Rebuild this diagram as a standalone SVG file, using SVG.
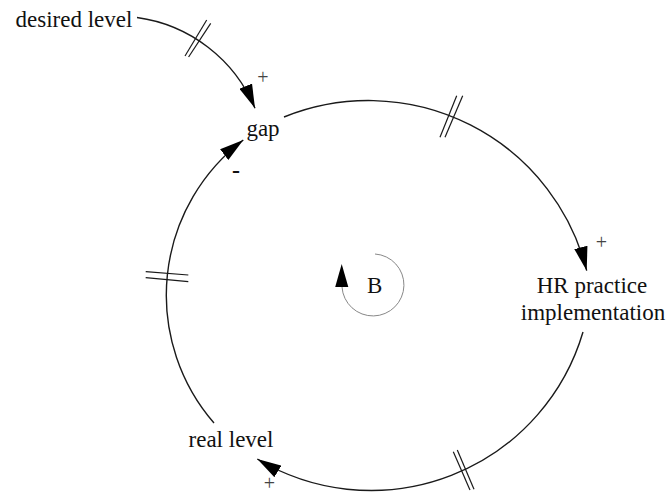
<svg xmlns="http://www.w3.org/2000/svg" width="667" height="495" viewBox="0 0 667 495">
<style>
.lbl{font-family:"Liberation Serif","Times New Roman",serif;font-size:23px;fill:#111;text-anchor:middle}
.pol{font-family:"Liberation Serif","Times New Roman",serif;font-size:20px;fill:#444;text-anchor:middle}
.link{fill:none;stroke:#1a1a1a;stroke-width:1.4}
.bar{stroke:#1a1a1a;stroke-width:1.2}
.loop{fill:none;stroke:#888;stroke-width:1}
</style>
<defs>
<marker id="ah" markerUnits="userSpaceOnUse" markerWidth="24" markerHeight="14" viewBox="0 0 23 13" refX="23" refY="6.5" orient="auto">
<path d="M0,0 L23,6.5 L0,13 Z" fill="#000"/>
</marker>
</defs>
<rect width="667" height="495" fill="#fff"/>
<g id="connectors">
<path class="link" d="M137,17.5 A150,150 0 0 1 255,108.3" marker-end="url(#ah)"/>
<line class="bar" x1="185" y1="56" x2="206.7" y2="20"/>
<line class="bar" x1="188.6" y1="57" x2="210.7" y2="23.3"/>
<path class="link" d="M284,117 A225,225 0 0 1 586.7,270.7" marker-end="url(#ah)"/>
<line class="bar" x1="440" y1="137.3" x2="456.7" y2="95.7"/>
<line class="bar" x1="445" y1="137.3" x2="462.7" y2="95.7"/>
<path class="link" d="M583,332 A221,221 0 0 1 257.3,459" marker-end="url(#ah)"/>
<line class="bar" x1="453.3" y1="451.7" x2="470" y2="490"/>
<line class="bar" x1="457.3" y1="450" x2="474" y2="489.3"/>
<path class="link" d="M214,423 A195,195 0 0 1 243.3,140" marker-end="url(#ah)"/>
<line class="bar" x1="145.7" y1="271.7" x2="188.3" y2="275"/>
<line class="bar" x1="145.7" y1="277.7" x2="188.3" y2="281.7"/>
<text class="pol" x="263" y="84">+</text>
<text class="pol" x="601.5" y="249">+</text>
<text class="pol" x="269.3" y="490">+</text>
<text class="pol" x="236" y="178" style="font-size:24px;font-weight:bold;fill:#111">-</text>
</g>
<g id="desired-level"><text class="lbl" x="74" y="27">desired level</text></g>
<g id="gap"><text class="lbl" x="263" y="136">gap</text></g>
<g id="hr-practice"><text class="lbl" x="592" y="293">HR practice</text><text class="lbl" x="593" y="320">implementation</text></g>
<g id="real-level"><text class="lbl" x="231" y="447">real level</text></g>
<g id="loop-b">
<path class="loop" d="M375,254 A31,31 0 1 1 342,287"/>
<polygon points="335.2,287 348.3,287 341.7,264" fill="#000"/>
<text class="lbl" x="374.7" y="293">B</text>
</g>
</svg>
